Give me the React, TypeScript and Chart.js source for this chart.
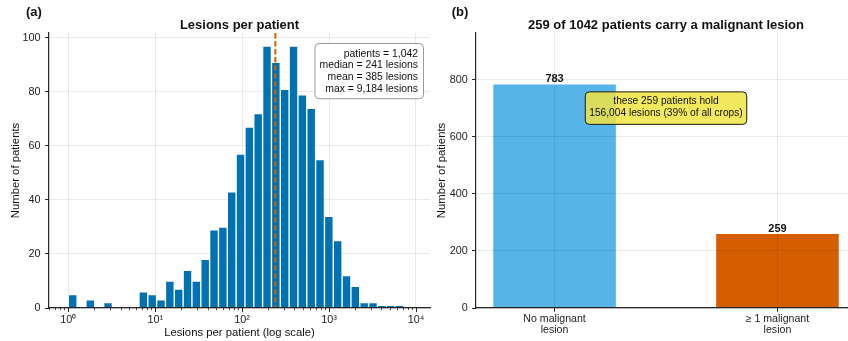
import React, { useEffect, useRef } from 'react';
import { Chart, registerables } from 'chart.js';

Chart.register(...registerables);

const FONT_FAMILY = '"Liberation Sans", Arial, Helvetica, sans-serif';
Chart.defaults.font.family = FONT_FAMILY;

// ---------------- data: panel (a) ----------------
const HIST_COUNTS = [5, 0, 3, 0, 2, 0, 0, 0, 6, 5, 3, 10, 7, 14, 10, 18, 29, 30, 43, 57, 67, 72, 97, 91, 81, 97, 79, 74, 55, 34, 25, 12, 8, 2, 2, 1, 1, 1, 0];
const MAX_LESIONS = 9184;
const MEDIAN_LESIONS = 241;
const HIST_X_TICKS = [1, 10, 100, 1000, 10000];
const HIST_Y_TICKS = [0, 20, 40, 60, 80, 100];
const STATS_LINES = ['patients = 1,042', 'median = 241 lesions', 'mean = 385 lesions', 'max = 9,184 lesions'];

// ---------------- data: panel (b) ----------------
const GROUP_LABELS = [['No malignant', 'lesion'], ['\u2265 1 malignant', 'lesion']];
const GROUP_COUNTS = [783, 259];
const BAR_Y_TICKS = [0, 200, 400, 600, 800];
const NOTE_LINES = ['these 259 patients hold', '156,004 lesions (39% of all crops)'];
const NOTE_ANCHOR = { x: 0.5, y: 700 };

// ---------------- styles ----------------
const TEXT = '#111111';
const TICK_TEXT = '#222222';
const AXIS = '#262626';
const GRID = 'rgba(0,0,0,0.085)';
const HIST_COLOR = '#0072B2';
const MEDIAN_COLOR = '#D55E00';
const GROUP_COLORS = ['#56B4E9', '#D55E00'];
const NOTE_FILL = 'rgba(240,228,66,0.85)';
const BAR_WIDTH = 0.55;

const SUP: Record<string, string> = { '0': '\u2070', '1': '\u00B9', '2': '\u00B2', '3': '\u00B3', '4': '\u2074', '5': '\u2075', '-': '\u207B' };
const supStr = (n: number) => String(n).split('').map((c) => SUP[c] || c).join('');

function roundRect(ctx: CanvasRenderingContext2D, x: number, y: number, w: number, h: number, r: number) {
  ctx.beginPath();
  ctx.moveTo(x + r, y);
  ctx.lineTo(x + w - r, y);
  ctx.arcTo(x + w, y, x + w, y + r, r);
  ctx.lineTo(x + w, y + h - r);
  ctx.arcTo(x + w, y + h, x + w - r, y + h, r);
  ctx.lineTo(x + r, y + h);
  ctx.arcTo(x, y + h, x, y + h - r, r);
  ctx.lineTo(x, y + r);
  ctx.arcTo(x, y, x + r, y, r);
  ctx.closePath();
}

function drawHeader(ctx: CanvasRenderingContext2D, area: any, panel: string, title: string, panelX: number) {
  ctx.save();
  ctx.fillStyle = TEXT;
  ctx.textBaseline = 'alphabetic';
  ctx.font = `bold 13px ${FONT_FAMILY}`;
  ctx.textAlign = 'left';
  ctx.fillText(panel, panelX, 15.6);
  ctx.textAlign = 'center';
  ctx.fillText(title, (area.left + area.right) / 2, 29);
  ctx.restore();
}

const histPlugin = {
  id: 'histDecor',
  afterDatasetsDraw(chart: any) {
    const { ctx, chartArea: a, scales } = chart;
    const px = scales.x.getPixelForValue(MEDIAN_LESIONS);
    ctx.save();
    ctx.strokeStyle = MEDIAN_COLOR;
    ctx.lineWidth = 2;
    ctx.setLineDash([5.5, 2.5]);
    ctx.beginPath();
    ctx.moveTo(px, a.top);
    ctx.lineTo(px, a.bottom);
    ctx.stroke();
    ctx.restore();
  },
  afterDraw(chart: any) {
    const { ctx, chartArea: a, scales } = chart;
    const x = scales.x;
    ctx.save();
    ctx.strokeStyle = AXIS;
    const lo = Math.floor(Math.log10(x.min));
    const hi = Math.ceil(Math.log10(x.max));
    for (let e = lo; e <= hi; e++) {
      for (let m = 1; m <= 9; m++) {
        const v = m * Math.pow(10, e);
        if (v < x.min || v > x.max) continue;
        const p = Math.round(x.getPixelForValue(v)) + 0.5;
        ctx.lineWidth = m === 1 ? 1 : 0.8;
        ctx.beginPath();
        ctx.moveTo(p, a.bottom);
        ctx.lineTo(p, a.bottom + (m === 1 ? 4 : 2.2));
        ctx.stroke();
      }
    }
    ctx.restore();

    drawHeader(ctx, a, '(a)', 'Lesions per patient', 26);

    ctx.save();
    ctx.font = `10.4px ${FONT_FAMILY}`;
    const maxW = Math.max(...STATS_LINES.map((s) => ctx.measureText(s).width));
    const right = a.right - 7;
    const top = a.top + 10;
    const pad = 5;
    const lh = 11.8;
    const h = 13.6 + (STATS_LINES.length - 1) * lh + 6.2;
    const w = maxW + 2 * pad;
    roundRect(ctx, right - w + 0.5, top + 0.5, w, h, 4);
    ctx.fillStyle = 'rgba(255,255,255,0.95)';
    ctx.fill();
    ctx.strokeStyle = '#9a9a9a';
    ctx.lineWidth = 1;
    ctx.stroke();
    ctx.fillStyle = TEXT;
    ctx.textAlign = 'right';
    ctx.textBaseline = 'alphabetic';
    STATS_LINES.forEach((s, i) => ctx.fillText(s, right - pad, top + 13.6 + i * lh));
    ctx.restore();
  },
};

const groupPlugin = {
  id: 'groupDecor',
  afterDraw(chart: any) {
    const { ctx, chartArea: a, scales } = chart;
    drawHeader(ctx, a, '(b)', `${GROUP_COUNTS[1]} of ${GROUP_COUNTS[0] + GROUP_COUNTS[1]} patients carry a malignant lesion`, 21.7);

    const meta = chart.getDatasetMeta(0);
    ctx.save();
    ctx.font = `bold 11px ${FONT_FAMILY}`;
    ctx.fillStyle = TEXT;
    ctx.textAlign = 'center';
    ctx.textBaseline = 'alphabetic';
    meta.data.forEach((el: any, i: number) => {
      ctx.fillText(String(GROUP_COUNTS[i]), el.x, el.y - 2.5);
    });
    ctx.restore();

    const cx = scales.x.getPixelForValue(NOTE_ANCHOR.x);
    const cy = scales.y.getPixelForValue(NOTE_ANCHOR.y);
    ctx.save();
    ctx.font = `10.2px ${FONT_FAMILY}`;
    const maxW = Math.max(...NOTE_LINES.map((s) => ctx.measureText(s).width));
    const w = maxW + 8;
    const h = 32.5;
    roundRect(ctx, cx - w / 2, cy - h / 2, w, h, 4);
    ctx.fillStyle = NOTE_FILL;
    ctx.fill();
    ctx.strokeStyle = '#1a1a1a';
    ctx.lineWidth = 1;
    ctx.stroke();
    ctx.fillStyle = TEXT;
    ctx.textAlign = 'center';
    ctx.textBaseline = 'alphabetic';
    NOTE_LINES.forEach((s, i) => ctx.fillText(s, cx, cy - 4 + i * 12));
    ctx.restore();
  },
};

export default function App() {
  const histRef = useRef<HTMLCanvasElement>(null);
  const barRef = useRef<HTMLCanvasElement>(null);

  useEffect(() => {
    const logMax = Math.log10(MAX_LESIONS);
    const nb = HIST_COUNTS.length;
    const histData = HIST_COUNTS.map((c, k) => ({ x: Math.pow(10, ((k + 0.5) * logMax) / nb), y: c }));

    const tickFont = { size: 10.8, family: FONT_FAMILY };
    const titleFont = { size: 11.3, family: FONT_FAMILY };

    const hist = new Chart(histRef.current as HTMLCanvasElement, {
      type: 'bar',
      data: {
        datasets: [
          {
            data: histData as any,
            backgroundColor: HIST_COLOR,
            borderColor: '#ffffff',
            borderWidth: 0.7,
            barPercentage: 1,
            categoryPercentage: 1,
            inflateAmount: 0,
          } as any,
        ],
      },
      options: {
        responsive: false,
        animation: false,
        devicePixelRatio: 1,
        events: [],
        layout: { padding: { top: 33, right: 10, left: 0, bottom: 0 } },
        plugins: { legend: { display: false }, title: { display: false }, tooltip: { enabled: false } },
        scales: {
          x: {
            type: 'logarithmic',
            min: Math.pow(10, -0.05 * logMax),
            max: Math.pow(10, 1.05 * logMax),
            offset: false,
            afterBuildTicks: (s: any) => {
              s.ticks = HIST_X_TICKS.map((v) => ({ value: v, major: true }));
            },
            afterFit: (s: any) => {
              s.height = 33;
            },
            grid: { offset: false, color: GRID, drawTicks: true, tickLength: 4, tickColor: 'rgba(0,0,0,0)', z: -1 },
            border: { display: true, color: AXIS, width: 1.2, z: 2 },
            ticks: {
              font: tickFont,
              color: TICK_TEXT,
              padding: 1.3,
              maxRotation: 0,
              autoSkip: false,
              callback: (v: any) => '10' + supStr(Math.round(Math.log10(Number(v)))),
            },
            title: { display: true, text: 'Lesions per patient (log scale)', font: titleFont, color: TEXT, padding: { top: 0, bottom: 1.2 } },
          } as any,
          y: {
            type: 'linear',
            min: 0,
            max: Math.max(...HIST_COUNTS) * 1.05,
            afterBuildTicks: (s: any) => {
              s.ticks = HIST_Y_TICKS.map((v) => ({ value: v }));
            },
            afterFit: (s: any) => {
              s.width = 49;
            },
            grid: { color: GRID, tickLength: 4, tickColor: AXIS, z: -1 },
            border: { display: true, color: AXIS, width: 1.2, z: 2 },
            ticks: { font: tickFont, color: TICK_TEXT, padding: 4.5 },
            title: { display: true, text: 'Number of patients', font: titleFont, color: TEXT, padding: { top: 9.2, bottom: 0 } },
          } as any,
        },
      },
      plugins: [histPlugin],
    });

    const groupMin = -BAR_WIDTH / 2 - 0.05 * (1 + BAR_WIDTH);
    const groupMax = GROUP_COUNTS.length - 1 + BAR_WIDTH / 2 + 0.05 * (1 + BAR_WIDTH);

    const bars = new Chart(barRef.current as HTMLCanvasElement, {
      type: 'bar',
      data: {
        datasets: [
          {
            data: GROUP_COUNTS.map((c, i) => ({ x: i, y: c })) as any,
            backgroundColor: GROUP_COLORS,
            borderWidth: 0,
            barPercentage: 1,
            categoryPercentage: BAR_WIDTH,
            inflateAmount: 0,
          } as any,
        ],
      },
      options: {
        responsive: false,
        animation: false,
        devicePixelRatio: 1,
        events: [],
        layout: { padding: { top: 33, right: 10, left: 0, bottom: 0 } },
        plugins: { legend: { display: false }, title: { display: false }, tooltip: { enabled: false } },
        scales: {
          x: {
            type: 'linear',
            min: groupMin,
            max: groupMax,
            offset: false,
            afterBuildTicks: (s: any) => {
              s.ticks = GROUP_COUNTS.map((_, i) => ({ value: i }));
            },
            afterFit: (s: any) => {
              s.height = 33;
            },
            grid: { offset: false, color: GRID, tickLength: 3.8, tickColor: AXIS, z: 1 },
            border: { display: true, color: AXIS, width: 1.2, z: 2 },
            ticks: {
              font: { size: 10.6, family: FONT_FAMILY, lineHeight: 1.1 },
              color: TICK_TEXT,
              padding: 1.2,
              maxRotation: 0,
              autoSkip: false,
              callback: (v: any) => GROUP_LABELS[Math.round(Number(v))] || '',
            },
          } as any,
          y: {
            type: 'linear',
            min: 0,
            max: Math.max(...GROUP_COUNTS) * 1.23,
            afterBuildTicks: (s: any) => {
              s.ticks = BAR_Y_TICKS.map((v) => ({ value: v }));
            },
            afterFit: (s: any) => {
              s.width = 46;
            },
            grid: { color: GRID, tickLength: 4, tickColor: AXIS, z: 1 },
            border: { display: true, color: AXIS, width: 1.2, z: 2 },
            ticks: { font: tickFont, color: TICK_TEXT, padding: 4.3 },
            title: { display: true, text: 'Number of patients', font: titleFont, color: TEXT, padding: { top: 5.2, bottom: 0 } },
          } as any,
        },
      },
      plugins: [groupPlugin],
    });

    return () => {
      hist.destroy();
      bars.destroy();
    };
  }, []);

  return (
    <div
      style={{
        position: 'absolute',
        left: 0,
        top: 0,
        width: 848,
        height: 341,
        overflow: 'hidden',
        background: '#ffffff',
      }}
    >
      <canvas
        ref={histRef}
        width={440}
        height={341}
        style={{ position: 'absolute', left: 0, top: 0, width: 440, height: 341, display: 'block' }}
      />
      <canvas
        ref={barRef}
        width={436}
        height={341}
        style={{ position: 'absolute', left: 430, top: 0, width: 436, height: 341, display: 'block' }}
      />
    </div>
  );
}
